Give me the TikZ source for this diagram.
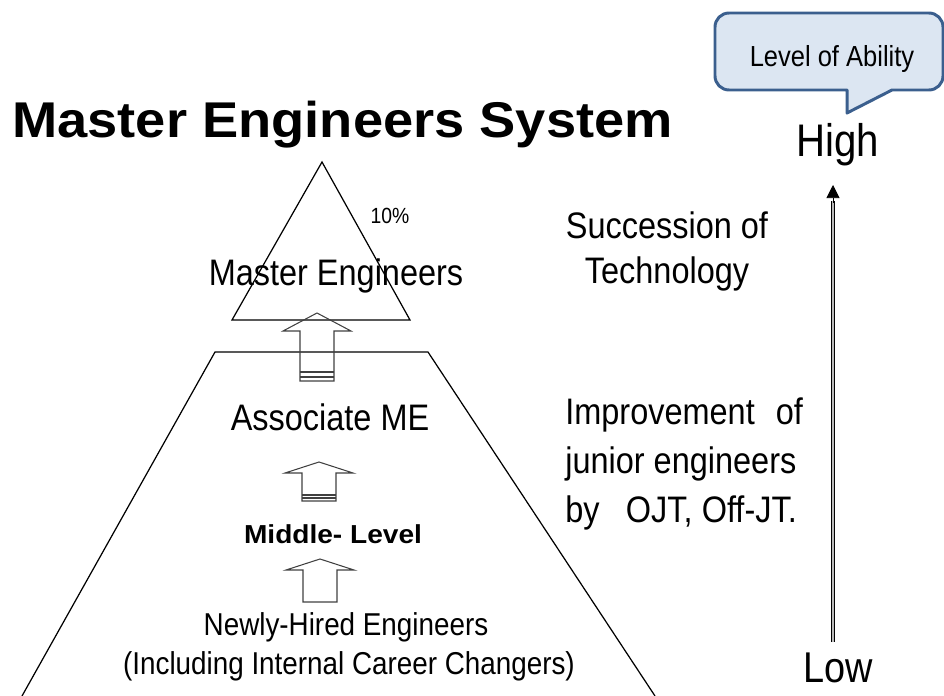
\documentclass[tikz,border=0pt]{standalone}
\usepackage{fontspec}
\setmainfont{Liberation Sans}
\newfontfamily\narrowsans[FakeStretch=0.88]{Liberation Sans}
\newfontfamily\widesans[FakeStretch=1.08]{Liberation Sans}
\usetikzlibrary{arrows.meta}
\definecolor{calloutfill}{HTML}{DCE6F2}
\definecolor{calloutline}{HTML}{3B5F8E}

\begin{document}
\begin{tikzpicture}[x=0.02cm, y=-0.02cm,
    pyramidline/.style={draw=black, line width=0.7pt},
    hollowarrow/.style={draw=black!75, line width=0.6pt},
    txt/.style={inner sep=0pt, anchor=base, font=\narrowsans\fontsize{21}{25}\selectfont},
    sidetxt/.style={txt, anchor=base west},
    levelline/.style={draw=black, line width=0.4pt, double=gray!55, double distance=1.1pt},
    callout/.style={draw=calloutline, fill=calloutfill, line width=1.7pt, line join=round}]
  \useasboundingbox (0,0) rectangle (944,696);
  % Title
  \node[anchor=base west, inner sep=0pt, font=\widesans\bfseries\fontsize{28.6}{32}\selectfont] (title) at (12,138) {Master Engineers System};
  % Pyramid: top triangle and lower trapezoid
  \draw[pyramidline] (322,162) -- (410,320) -- (232,320) -- cycle;
  \draw[pyramidline] (22,696) -- (215,352) -- (428,352) -- (655,696);
  % Hollow block arrows
  \foreach \tx/\ty/\hy/\by in {317/313/331/381, 319/462/473/501, 320/559/570/602} {
    \draw[hollowarrow] (\tx-17,\by) -- (\tx-17,\hy) -- (\tx-34,\hy) -- (\tx,\ty)
      -- (\tx+34,\hy) -- (\tx+17,\hy) -- (\tx+17,\by) -- cycle;
  }
  \foreach \tx/\sy in {317/372, 317/377, 319/495, 319/498} {
    \draw[hollowarrow] (\tx-17,\sy) -- (\tx+17,\sy);
  }
  % Levels
  \node[txt, font=\narrowsans\fontsize{12.5}{14}\selectfont] (share) at (390,223) {10\%};
  \node[txt] (master) at (336,285) {Master Engineers};
  \node[txt] (associate) at (330,430) {Associate ME};
  \node[txt, font=\widesans\bfseries\fontsize{14.8}{17}\selectfont] (middle) at (333,543) {Middle- Level};
  \node[txt, font=\narrowsans\fontsize{18}{21}\selectfont] (newly) at (346,635) {Newly-Hired Engineers};
  \node[txt, font=\narrowsans\fontsize{18}{21}\selectfont] (changers) at (349,674) {(Including Internal Career Changers)};
  % Right-hand notes
  \node[txt] (succession) at (667,238) {Succession of};
  \node[txt] (technology) at (667,283) {Technology};
  \node[sidetxt] (improve) at (565,424) {Improvement\hspace{12pt}of};
  \node[sidetxt] (junior) at (565,473) {junior engineers};
  \node[sidetxt] (byojt) at (565,522) {by\hspace{15pt}OJT, Off-JT.};
  % Ability axis
  \node[txt, font=\narrowsans\fontsize{26}{30}\selectfont] (high) at (838,156) {High};
  \node[txt, font=\narrowsans\fontsize{24.5}{28}\selectfont] (low) at (838,682) {Low};
  \coordinate (axislow) at (833,642);
  \coordinate (axishigh) at (833,185);
  \draw[levelline, shorten >=9pt] (axislow) -- (axishigh);
  \draw[-{Triangle[length=7.4pt, width=7.4pt]}, line width=0.4pt] ([yshift=-10pt]axishigh) -- (axishigh);
  % Callout
  \draw[callout] (847,113) -- (847,90) [rounded corners=8] -- (715,90) -- (715,13) -- (943,13)
    -- (943,90) [sharp corners] -- (892,90) -- cycle;
  \node[txt, font=\narrowsans\fontsize{16.5}{19}\selectfont] (ability) at (832,67) {Level of Ability};
\end{tikzpicture}
\end{document}
